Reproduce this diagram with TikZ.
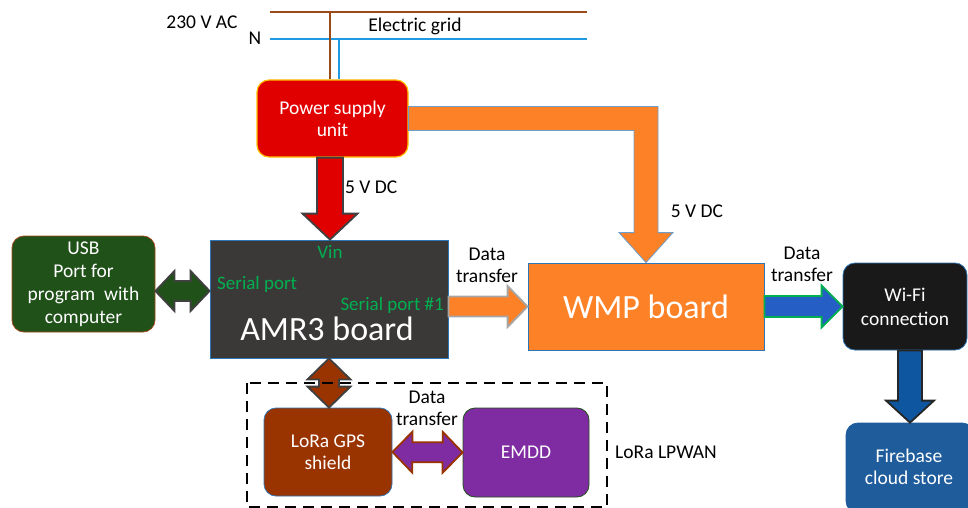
\documentclass[tikz,border=0pt]{standalone}
\usepackage{fontspec}
\setmainfont{Carlito}
\usetikzlibrary{calc}
\tikzset{>=stealth}
\definecolor{psured}{HTML}{E00000}
\definecolor{psuedge}{HTML}{FFC000}
\definecolor{amrgray}{HTML}{3B3838}
\definecolor{usbgreen}{HTML}{1F5119}
\definecolor{wmporange}{HTML}{FD8127}
\definecolor{edgeblue}{HTML}{2E75B6}
\definecolor{lorabrown}{HTML}{993300}
\definecolor{emddpurple}{HTML}{7F2CA2}
\definecolor{fbblue}{HTML}{1F5C9C}
\definecolor{cloudblue}{HTML}{0E56A0}
\definecolor{okgreen}{HTML}{00B050}
\definecolor{livebrown}{HTML}{9C4A1A}
\definecolor{nblue}{HTML}{1E9BE0}
\definecolor{rim}{HTML}{404040}
\tikzset{
	% boxes
	box/.style={draw=edgeblue,line width=0.8pt,text=white,align=center,
		font=\fontsize{19.5}{22}\selectfont,inner sep=0pt},
	rbox/.style={box,rounded corners=12pt},
	bigtext/.style={font=\fontsize{34}{40}\selectfont,text=white},
	pinlabel/.style={font=\fontsize{19}{22}\selectfont,text=okgreen,inner sep=0pt},
	plain/.style={font=\fontsize{19.5}{22}\selectfont,align=center,inner sep=0pt},
	% block arrows
	fat/.style={line width=1.8pt,line join=miter},
}
% block arrow: style, from, to, shaft half width, head half width, head length
\newcommand{\fatarrow}[6]{%
  \coordinate (fa1) at ($(#3)!#6!(#2)$);
  \draw[fat,#1] ($(#2)!#4!90:(#3)$) -- ($(fa1)!#4!90:(#3)$) -- ($(fa1)!#5!90:(#3)$)
    -- (#3) -- ($(fa1)!#5!-90:(#3)$) -- ($(fa1)!#4!-90:(#3)$) -- ($(#2)!#4!-90:(#3)$) -- cycle;}
\newcommand{\fatdouble}[6]{%
  \coordinate (fa1) at ($(#3)!#6!(#2)$);
  \coordinate (fa2) at ($(#2)!#6!(#3)$);
  \draw[fat,#1] ($(fa2)!#4!90:(#3)$) -- ($(fa1)!#4!90:(#3)$) -- ($(fa1)!#5!90:(#3)$)
    -- (#3) -- ($(fa1)!#5!-90:(#3)$) -- ($(fa1)!#4!-90:(#3)$) -- ($(fa2)!#4!-90:(#3)$)
    -- ($(fa2)!#5!-90:(#3)$) -- (#2) -- ($(fa2)!#5!90:(#3)$) -- cycle;}

\begin{document}
\begin{tikzpicture}[x=1pt,y=-1pt]
\useasboundingbox (0,0) rectangle (968,508);
% the boxes
\node[rbox,fill=psured,draw=psuedge,line width=1.2pt,minimum width=151pt,minimum height=77pt] (psu) at (332.5,118.5) {Power supply\\unit};
\node[box,fill=amrgray,minimum width=238pt,minimum height=118pt] (amr) at (329,299) {};
\node[rbox,fill=usbgreen,draw=livebrown,minimum width=143pt,minimum height=96pt,font=\fontsize{19.5}{23}\selectfont] (usb) at (83.5,284) {USB\\Port for\\program~~with\\computer};
\node[box,fill=wmporange,minimum width=236pt,minimum height=87pt,bigtext] (wmp) at (646,306.5) {WMP board};
\node[rbox,fill=black!90,minimum width=124pt,minimum height=87pt,font=\fontsize{19.5}{24}\selectfont] (wifi) at (905,306.5) {Wi-Fi\\connection};
\node[rbox,fill=fbblue,draw=fbblue,minimum width=128pt,minimum height=90pt] (fb) at (910,468) {};
\node[plain,text=white] (fbtext) at (909,467) {Firebase\\cloud store};
\node[rbox,fill=lorabrown,minimum width=128pt,minimum height=88pt] (lora) at (328,452) {LoRa GPS\\shield};
\node[rbox,fill=emddpurple,draw=usbgreen,minimum width=126pt,minimum height=89pt] (emdd) at (526,452.5) {EMDD};
% texts on the AMR3 board
\node[pinlabel] (vin) at (330,252) {Vin};
\node[pinlabel,anchor=west] (sp) at (217,284) {Serial port};
\node[pinlabel,anchor=east] (sp1) at (444,305) {Serial port \#1};
\node[bigtext,inner sep=0pt] (amrtext) at (327,329) {AMR3 board};
% the electric grid
\coordinate (acL) at (270,12);
\coordinate (acR) at (587,12);
\coordinate (nL) at (270,39);
\coordinate (nR) at (587,39);
\coordinate (acT) at (330,12);
\coordinate (nT) at (339,39);
\draw[livebrown,line width=1.5pt] (acL) -- (acR);
\draw[nblue,line width=1.5pt] (nL) -- (nR);
\draw[livebrown,line width=1.5pt] (acT) -- (acT |- psu.north);
\draw[nblue,line width=1.5pt] (nT) -- (nT |- psu.north);
\node[plain] (ac) at (202,22) {230 V AC};
\node[plain] (n) at (255,38) {N};
\node[plain] (grid) at (415,26) {Electric grid};
% power arrows
\coordinate (psuB) at ([xshift=-2.5pt]psu.south);
\fatarrow{fill=psured,draw=rim}{psuB}{psuB |- amr.north}{13pt}{27.5pt}{26pt}
\node[plain,anchor=west] (dc1) at (345,187) {5 V DC};
\draw[fill=wmporange,draw=edgeblue!70,line width=0.8pt,line join=miter]
  let \p1=(psu.east), \p2=(wmp.north) in
  (\x1,\y1+12pt) -- (\x2+12pt,\y1+12pt) -- (\x2+12pt,\y2+30pt) -- (\x2+27pt,\y2+30pt)
  -- (\x2,\y2) -- (\x2-27pt,\y2+30pt) -- (\x2-12pt,\y2+30pt) -- (\x2-12pt,\y1-12pt)
  -- (\x1,\y1-12pt) -- cycle;
\node[plain] (dc2) at (697,211) {5 V DC};
% data arrows
\coordinate (usbR) at ([yshift=-7pt]usb.east);
\fatdouble{fill=usbgreen,draw=rim}{usbR}{usbR -| amr.west}{10pt}{20pt}{19pt}
\fatarrow{fill=wmporange,draw=black!35}{wmp.west -| amr.east}{wmp.west}{10pt}{20.5pt}{20pt}
\node[plain] (dt1) at (487,265.5) {Data\\transfer};
\fatarrow{fill=edgeblue!80!blue,draw=okgreen}{wmp.east}{wifi.west}{10.5pt}{21pt}{21pt}
\node[plain] (dt2) at (802,264) {Data\\transfer};
\fatarrow{fill=cloudblue,draw=black!85}{fb.north |- wifi.south}{fb.north}{12pt}{24pt}{22pt}
\fatdouble{fill=lorabrown,draw=rim}{amr.south}{amr.south |- lora.north}{10pt}{21.5pt}{21pt}
\fatdouble{fill=emddpurple,draw=lorabrown}{lora.east}{emdd.west}{10pt}{20.5pt}{20pt}
\node[plain] (dt3) at (427,408.5) {Data\\transfer};
% the LoRa group
\draw[dashed,line width=1.8pt,dash pattern=on 11pt off 7pt] (247,383) rectangle (607,507);
\node[plain,anchor=west] (lpwan) at (615,452) {LoRa LPWAN};
\end{tikzpicture}
\end{document}
